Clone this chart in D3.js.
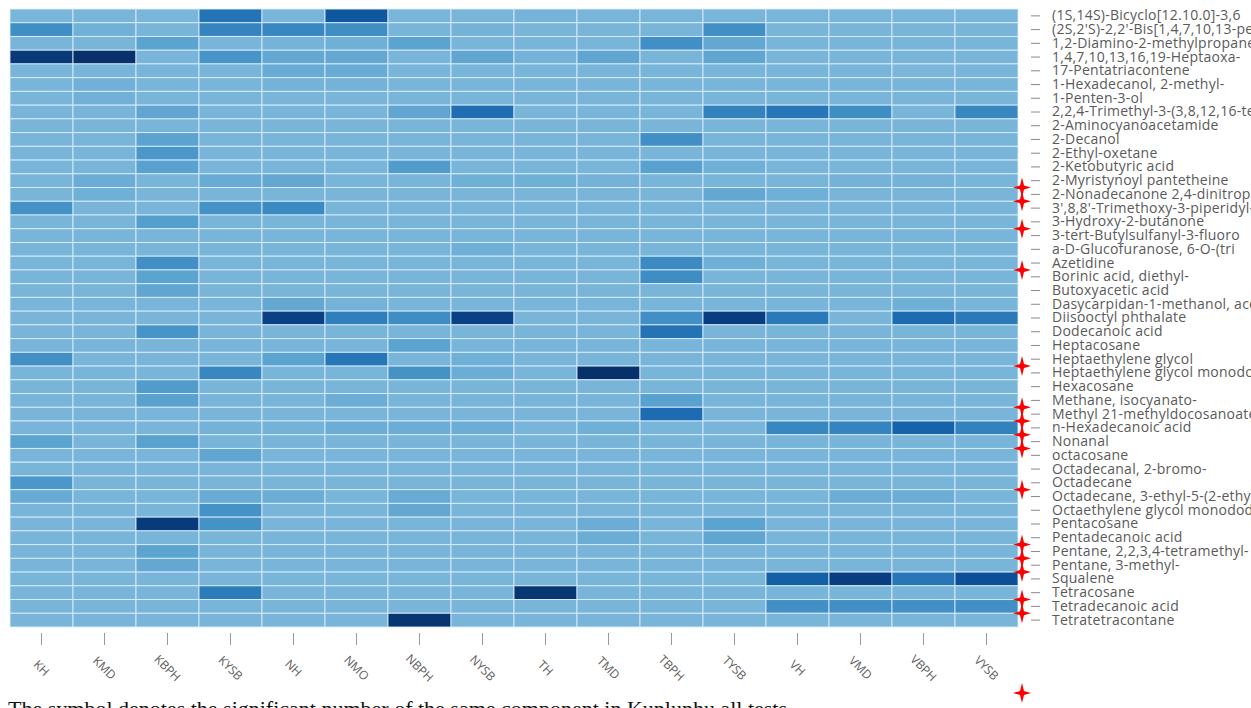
<!DOCTYPE html>
<html>
<head>
<meta charset="utf-8">
<script src="https://cdn.jsdelivr.net/npm/d3@7"></script>
<style>
  body { margin: 0; background: #fff; }
  svg { display: block; }
</style>
</head>
<body>
<svg id="chart" width="1251" height="708"></svg>
<script>
// Sampling sites (columns)
const samples = ["KH", "KMD", "KBPH", "KYSB", "NH", "NMO", "NBPH", "NYSB",
                 "TH", "TMD", "TBPH", "TYSB", "VH", "VMD", "VBPH", "VYSB"];

// Detected components (rows)
const compounds = [
  "(1S,14S)-Bicyclo[12.10.0]-3,6",
  "(2S,2'S)-2,2'-Bis[1,4,7,10,13-pentaoxacyclopentadecane]",
  "1,2-Diamino-2-methylpropane",
  "1,4,7,10,13,16,19-Heptaoxa-",
  "17-Pentatriacontene",
  "1-Hexadecanol, 2-methyl-",
  "1-Penten-3-ol",
  "2,2,4-Trimethyl-3-(3,8,12,16-tetramethyl-heptadeca-3,7,11,15-tetraenyl)-cyclohexanol",
  "2-Aminocyanoacetamide",
  "2-Decanol",
  "2-Ethyl-oxetane",
  "2-Ketobutyric acid",
  "2-Myristynoyl pantetheine",
  "2-Nonadecanone 2,4-dinitrophenylhydrazine",
  "3',8,8'-Trimethoxy-3-piperidyl-2,2'-binaphthalene-1,1',4,4'-tetrone",
  "3-Hydroxy-2-butanone",
  "3-tert-Butylsulfanyl-3-fluoro",
  "a-D-Glucofuranose, 6-O-(tri",
  "Azetidine",
  "Borinic acid, diethyl-",
  "Butoxyacetic acid",
  "Dasycarpidan-1-methanol, acetate (ester)",
  "Diisooctyl phthalate",
  "Dodecanoic acid",
  "Heptacosane",
  "Heptaethylene glycol",
  "Heptaethylene glycol monododecyl ether",
  "Hexacosane",
  "Methane, isocyanato-",
  "Methyl 21-methyldocosanoate",
  "n-Hexadecanoic acid",
  "Nonanal",
  "octacosane",
  "Octadecanal, 2-bromo-",
  "Octadecane",
  "Octadecane, 3-ethyl-5-(2-ethylbutyl)-",
  "Octaethylene glycol monododecyl ether",
  "Pentacosane",
  "Pentadecanoic acid",
  "Pentane, 2,2,3,4-tetramethyl-",
  "Pentane, 3-methyl-",
  "Squalene",
  "Tetracosane",
  "Tetradecanoic acid",
  "Tetratetracontane"
];

// Relative abundance per component, one row per compound, columns follow `samples`
const abundance = [
  [ 1,  2,  1, 52,  2, 72,  2,  2,   3,  2,  2,  2,  2,  2,  2,  2],
  [33,  5,  2, 40, 38, 33,  2,  4,   2,  2,  2, 32,  2,  2,  2,  2],
  [ 2,  2, 16,  2,  3,  6, 16,  2,   2,  2, 32, 12,  2,  2,  2,  2],
  [94,100,  2, 28, 12, 12,  2, 14,   4, 14,  2, 14,  2,  2,  2,  2],
  [ 2,  2,  2,  2, 10, 10,  2,  2,   2,  2,  2,  2,  2,  2,  0,  2],
  [ 2,  5,  2,  2,  4,  4,  2,  2,   2,  2,  2,  2,  2,  2,  2,  2],
  [ 2,  5,  2,  2,  2,  2,  2,  2,   2,  2,  2,  2,  2,  2,  2,  2],
  [ 2,  2, 14,  2,  2,  2, 14, 56,   2,  2,  2, 42, 50, 34,  2, 38],
  [ 2,  2,  2,  2,  2,  2,  2,  2,   2,  2,  2,  2,  2,  2,  2,  2],
  [ 2,  2, 16,  2,  2,  2,  2,  2,   2,  2, 32,  2,  2,  2,  2,  2],
  [ 2,  2, 26,  2,  2,  2,  2,  2,   2,  2,  2,  2,  2,  2,  2,  2],
  [ 2,  2, 18,  2,  2,  2, 22,  2,   2,  2, 18,  6,  2,  2,  2,  2],
  [ 2,  8,  2, 10, 12,  2,  2,  6,   6,  4,  2,  2,  2,  4,  4,  2],
  [ 2,  6,  2,  2,  2,  2,  2,  2,   2,  2,  2, 12,  6,  2,  2,  2],
  [30,  2,  2, 30, 36,  2,  2,  2,   2,  2,  2,  2,  2,  2,  2,  2],
  [ 2,  2, 20,  2,  2,  2,  2,  2,   2,  2,  2,  2,  2,  2,  2,  2],
  [ 2,  2,  2,  2,  2,  2,  2,  2,   2,  2,  2,  2,  2,  2,  2,  2],
  [ 2,  2,  2,  2,  2,  2,  2,  6,   2,  2,  2,  2,  2,  2,  2,  2],
  [ 2,  2, 32,  2,  2,  2,  2,  2,   2,  2, 36,  6,  2,  2,  2,  2],
  [ 2,  2, 16,  2,  2,  2,  2,  2,   2,  2, 34,  2,  2,  2,  2,  2],
  [ 2,  2, 14,  2,  2,  2,  2,  2,   2,  2,  2,  2,  2,  2,  2,  2],
  [ 2,  2,  2,  2, 12,  4,  2,  2,   2,  2,  2,  2,  2,  2,  6,  2],
  [ 2,  2,  2,  2, 88, 44, 34, 88,   2,  2, 32, 90, 48,  2, 58, 48],
  [ 2,  2, 28,  2,  2,  2,  2,  2,   2,  2, 52,  2,  2,  2,  2,  2],
  [ 2,  2,  2,  2,  2,  2, 16,  2,   2,  2,  2,  2,  2,  2,  2,  2],
  [32,  2,  2,  2, 16, 50,  2,  6,   2,  2,  2,  2,  2,  2,  2,  2],
  [ 2,  2,  2, 38,  2,  2, 30,  8,   2,100,  2,  2,  2,  2,  2,  2],
  [ 2,  2, 22,  2,  2,  2,  2,  2,   2,  2,  2,  2,  2,  2,  2,  2],
  [ 2,  2, 18,  2,  2,  8,  2,  2,   2,  2, 18,  2,  2,  2,  2,  2],
  [ 2,  2,  2,  2,  2,  2,  2,  2,   2,  2, 58,  2,  2,  2,  2,  2],
  [ 2,  2,  2,  4,  4,  8,  8,  8,   2,  6,  2,  2, 38, 40, 64, 42],
  [16,  2, 18,  2,  2,  2,  2,  2,   2,  2,  2,  2,  2,  2,  2,  2],
  [ 2,  2,  2, 14,  2,  2,  2,  2,   2,  2,  2,  2,  2,  2,  2,  2],
  [ 2,  2,  2,  2,  2,  2,  2,  2,   2,  2,  2,  2,  2,  2,  2,  2],
  [26,  2,  2,  2,  2,  2,  2,  2,   2,  2,  2,  2,  2,  2,  2,  2],
  [10,  2,  2, 10,  8,  2, 10,  2,   2,  2,  2,  2,  2,  8,  8,  2],
  [ 2,  2,  2, 30,  2,  2, 12,  2,   2,  2,  2,  2,  2,  2,  2,  2],
  [ 2,  2, 92, 30,  2,  2,  2,  2,   2,  8,  2, 16,  2,  2,  2,  2],
  [ 2,  2,  2,  2,  2,  2,  2,  2,   2,  8,  2, 14,  2,  2,  2,  2],
  [ 2,  2, 16,  2,  2,  2,  2,  2,   2,  2,  2,  2,  2,  2,  2,  2],
  [ 2,  2, 12,  2,  2,  2,  2,  2,   2,  2,  2,  2,  2,  2,  2,  2],
  [ 2,  2,  2,  2,  2,  2,  2,  2,   2,  2,  2,  2, 66, 90, 50, 78],
  [ 2,  2,  2, 46,  2,  2,  2,  2,  96,  2,  2,  2,  2,  2,  2,  2],
  [ 2,  2,  2,  2,  2,  2,  2,  2,   2,  2,  2,  2, 32, 32, 32, 32],
  [ 2,  2,  2,  2,  2,  2, 96,  2,   2,  2,  2,  2,  2,  2,  2,  2]
];

// Components flagged as significant across all Kunlunhu tests
const markedCompounds = [
  "2-Nonadecanone 2,4-dinitrophenylhydrazine",
  "3',8,8'-Trimethoxy-3-piperidyl-2,2'-binaphthalene-1,1',4,4'-tetrone",
  "3-tert-Butylsulfanyl-3-fluoro",
  "Borinic acid, diethyl-",
  "Heptaethylene glycol monododecyl ether",
  "Methyl 21-methyldocosanoate",
  "n-Hexadecanoic acid",
  "Nonanal",
  "octacosane",
  "Octadecane, 3-ethyl-5-(2-ethylbutyl)-",
  "Pentane, 2,2,3,4-tetramethyl-",
  "Pentane, 3-methyl-",
  "Squalene",
  "Tetradecanoic acid",
  "Tetratetracontane"
];

const captionText = "The symbol denotes the significant number of the same component in Kunlunhu all tests";

// ---------------------------------------------------------------------------
const svg = d3.select("#chart");
const plot = { left: 10, right: 1018, top: 9, bottom: 627 };

const x = d3.scaleBand().domain(samples).range([plot.left, plot.right]).padding(0);
const y = d3.scaleBand().domain(compounds).range([plot.top, plot.bottom]).padding(0);
const color = d3.scaleSequential(t => d3.interpolateBlues(0.46 + 0.54 * t)).domain([0, 100]);

const cells = [];
compounds.forEach((c, i) => samples.forEach((s, j) => cells.push({ compound: c, sample: s, value: abundance[i][j] })));

svg.append("g")
  .selectAll("rect")
  .data(cells)
  .join("rect")
    .attr("x", d => x(d.sample))
    .attr("y", d => y(d.compound))
    .attr("width", x.bandwidth())
    .attr("height", y.bandwidth())
    .attr("fill", d => color(d.value))
    .attr("stroke", "rgba(222,240,255,0.85)")
    .attr("stroke-width", 1);

// Bottom axis with rotated sample labels
const xAxis = svg.append("g")
  .attr("transform", `translate(0,${plot.bottom + 6})`)
  .call(d3.axisBottom(x).tickSize(12).tickSizeOuter(0));
xAxis.select(".domain").remove();
xAxis.selectAll(".tick line").attr("stroke", "#9a9a9a");
xAxis.selectAll(".tick text")
  .attr("y", 0)
  .attr("dy", "0.35em")
  .attr("text-anchor", "middle")
  .attr("transform", "translate(0,35) rotate(45)")
  .attr("fill", "#5f5f5f")
  .style("font-family", "'Open Sans', 'Noto Sans', sans-serif")
  .style("font-size", "12px");

// Right axis with compound names
const yAxis = svg.append("g")
  .attr("transform", `translate(1031,0)`)
  .call(d3.axisRight(y).tickSize(9).tickPadding(12).tickSizeOuter(0));
yAxis.select(".domain").remove();
yAxis.selectAll(".tick line").attr("stroke", "#8a8a8a");
yAxis.selectAll(".tick text")
  .attr("fill", "#5a5a5a")
  .style("font-family", "'Open Sans', 'Noto Sans', sans-serif")
  .style("font-size", "14px")
  .style("letter-spacing", "0.25px");

// Four-pointed star marker
const starPath = "M0,-10 L2,-2 L9,0 L2,2 L0,10 L-2,2 L-9,0 L-2,-2 Z";

svg.append("g")
  .selectAll("path")
  .data(markedCompounds)
  .join("path")
    .attr("d", starPath)
    .attr("transform", d => `translate(1022,${y(d)})`)
    .attr("fill", "#ff0000");

// Key symbol and caption
svg.append("path")
  .attr("d", starPath)
  .attr("transform", "translate(1022,693)")
  .attr("fill", "#ff0000");

svg.append("text")
  .attr("x", 8)
  .attr("y", 716)
  .attr("fill", "#111")
  .style("font-family", "'Liberation Serif', 'DejaVu Serif', serif")
  .style("font-size", "22px")
  .text(captionText);
</script>
</body>
</html>
